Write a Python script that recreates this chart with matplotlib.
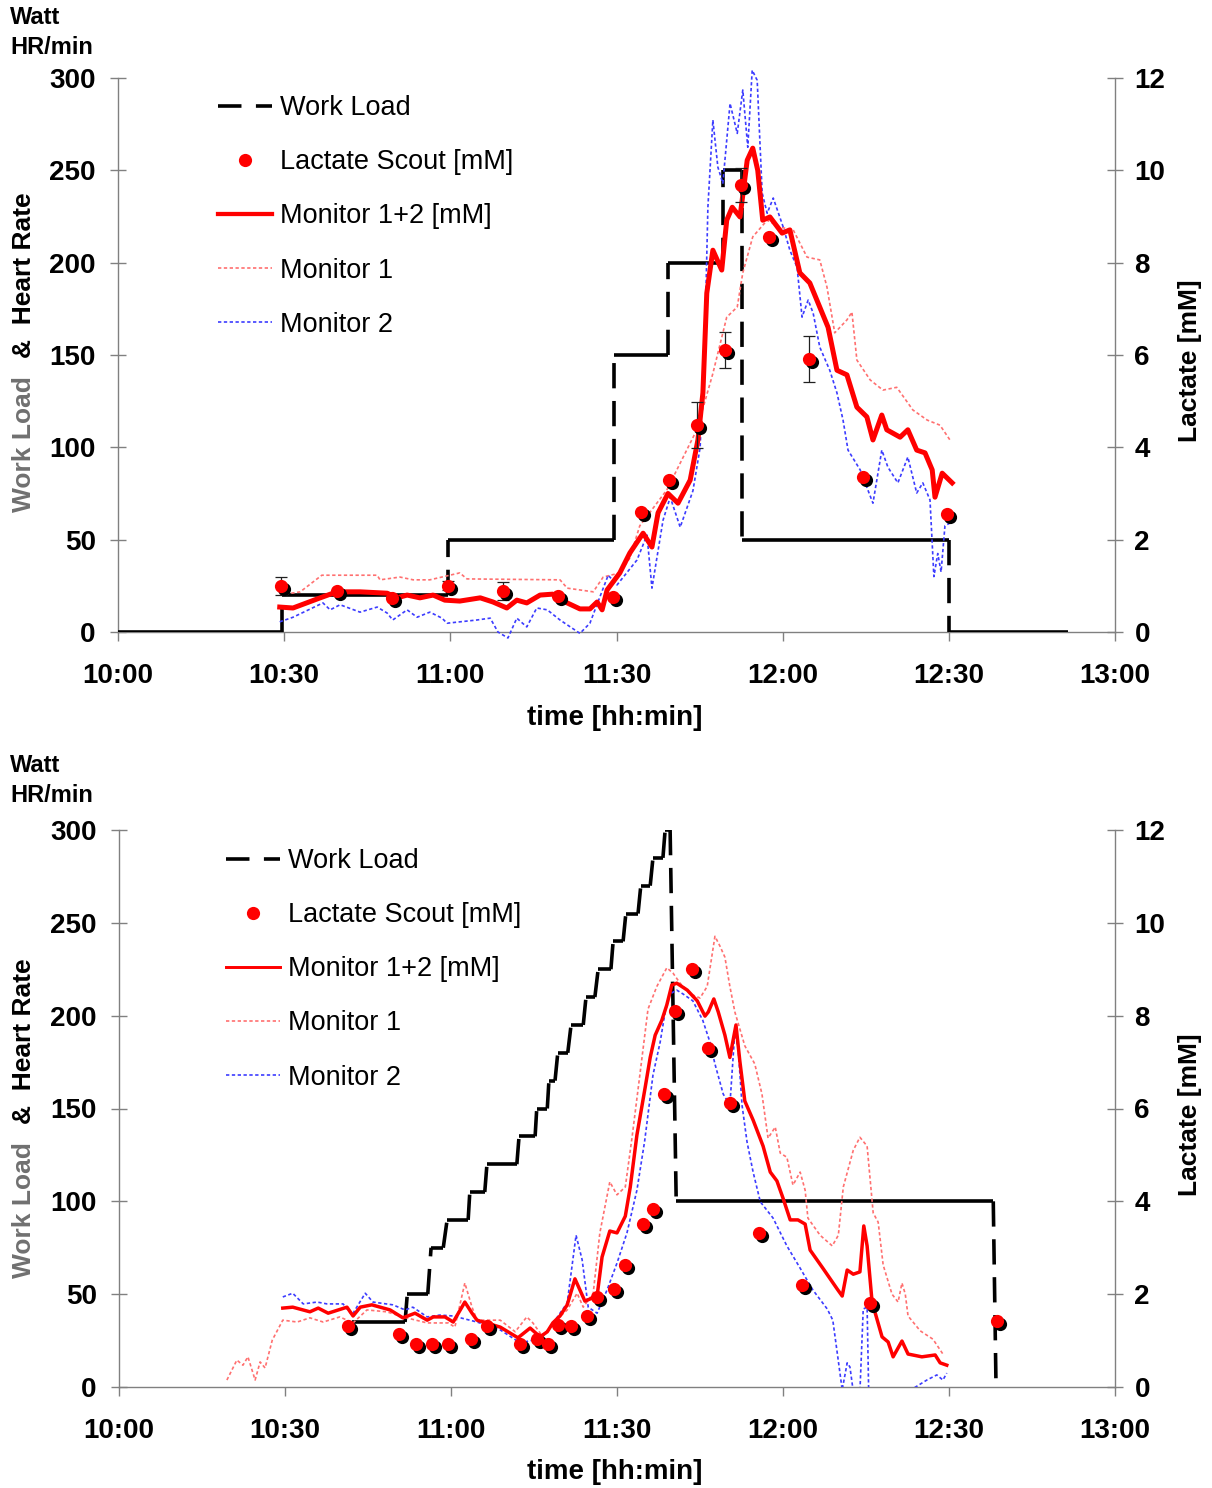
import matplotlib
matplotlib.use('Agg')
import matplotlib.pyplot as plt
from matplotlib.lines import Line2D
from matplotlib.transforms import ScaledTranslation

plt.rcParams['font.family'] = ['Liberation Sans', 'DejaVu Sans']

# ---- data: time in minutes after 10:00 ----
xticks = [0, 30, 60, 90, 120, 150, 180]
xlabels = ['10:00', '10:30', '11:00', '11:30', '12:00', '12:30', '13:00']
yticks_left = [0, 50, 100, 150, 200, 250, 300]
yticks_right = [0, 2, 4, 6, 8, 10, 12]

# top panel
load1_t = [0, 29.6, 29.6, 59.6, 59.6, 89.6, 89.6, 99.3, 99.3, 109.2, 109.2, 112.7, 112.7, 150, 150, 171.5]
load1_w = [0, 0, 20, 20, 50, 50, 150, 150, 200, 200, 250, 250, 50, 50, 0, 0]

scout1_t = [29.4, 39.5, 49.5, 59.6, 69.5, 79.4, 89.4, 94.4, 99.5, 104.5, 109.6, 112.5, 117.5, 124.7, 134.5, 149.7]
scout1_v = [1.00, 0.89, 0.74, 1.00, 0.89, 0.78, 0.76, 2.60, 3.29, 4.48, 6.10, 9.68, 8.56, 5.91, 3.36, 2.56]
scout1_err = [0.20, 0, 0, 0.10, 0.20, 0, 0, 0, 0, 0.50, 0.39, 0.37, 0, 0.50, 0, 0]

mon12_1_t = [29.2, 31.6, 36.5, 39.5, 43.7, 48.6, 50.4, 52.2, 54.5, 56.9, 59.0, 61.7, 65.4, 67.7, 70.2,
             72.0, 73.8, 76.2, 78.5, 81.1, 83.4, 85.2, 86.5, 87.4, 88.3, 90.6, 92.4, 94.8, 96.4, 97.5,
             99.3, 101.1, 103.3, 104.7, 105.6, 106.3, 107.4, 109.0, 109.9, 110.9, 112.3, 113.6, 114.6,
             115.5, 116.4, 117.7, 119.9, 121.3, 123.1, 124.9, 128.2, 129.8, 131.6, 133.4, 135.2, 136.3,
             137.9, 138.8, 141.2, 142.6, 144.2, 145.7, 147.0, 147.5, 148.8, 150.6]
mon12_1_v = [0.54, 0.52, 0.74, 0.87, 0.87, 0.84, 0.74, 0.80, 0.74, 0.80, 0.69, 0.67, 0.74, 0.65, 0.52,
             0.69, 0.63, 0.80, 0.82, 0.63, 0.50, 0.50, 0.65, 0.48, 0.91, 1.28, 1.71, 2.14, 1.84, 2.58,
             3.00, 2.79, 3.29, 4.16, 5.18, 7.34, 8.27, 7.84, 8.92, 9.20, 8.99, 10.22, 10.48,
             10.00, 8.92, 8.99, 8.64, 8.71, 7.78, 7.56, 6.60, 5.67, 5.57, 4.87, 4.66, 4.16,
             4.70, 4.38, 4.22, 4.38, 3.94, 3.88, 3.51, 2.92, 3.44, 3.23]

mon1_1_t = [29.2, 32.9, 36.8, 46.8, 47.3, 50.9, 53.3, 56.3, 61.7, 63.0, 79.8, 81.1, 85.8, 87.6, 90.6,
            92.4, 94.2, 99.1, 104.5, 107.4, 109.9, 111.8, 112.8, 114.6, 117.2, 119.5, 121.9, 124.4,
            126.7, 128.0, 129.4, 131.6, 132.5, 133.4, 135.8, 138.1, 140.6, 143.5, 146.1, 148.4, 150.2]
mon1_1_v = [0.80, 0.87, 1.23, 1.23, 1.13, 1.19, 1.13, 1.13, 1.28, 1.15, 1.13, 0.95, 0.87, 1.19, 1.28,
            1.60, 2.30, 3.08, 4.38, 5.60, 6.82, 7.04, 7.78, 8.56, 8.92, 8.77, 8.71, 8.12,
            8.06, 7.47, 6.48, 6.76, 6.93, 5.89, 5.46, 5.24, 5.30, 4.81, 4.59, 4.48, 4.16]

mon2_1_t = [29.2, 31.6, 37.0, 38.3, 40.1, 43.7, 46.8, 48.6, 49.6, 52.2, 54.0, 56.3, 58.5, 59.4, 64.8,
            67.2, 68.6, 70.4, 72.0, 73.8, 75.6, 77.5, 79.8, 83.4, 85.2, 87.0, 88.5, 90.1, 93.7, 95.5,
            96.4, 98.4, 99.7, 101.5, 103.8, 105.1, 106.0, 106.5, 107.4, 108.3, 109.2, 110.5, 111.8,
            112.8, 113.7, 114.5, 115.4, 116.3, 117.2, 118.3, 120.1, 121.3, 122.6, 123.5, 124.6, 125.5,
            126.7, 128.5, 129.8, 130.9, 131.8, 134.0, 136.3, 137.9, 139.0, 140.8, 142.6, 144.2, 145.3,
            146.6, 147.3, 148.0, 148.6, 149.3, 150.2]
mon2_1_v = [0.22, 0.32, 0.63, 0.48, 0.59, 0.43, 0.54, 0.41, 0.26, 0.48, 0.32, 0.43, 0.30, 0.19, 0.26,
            0.30, 0.00, -0.13, 0.30, 0.11, 0.52, 0.48, 0.26, -0.03, 0.19, 0.76, 1.23, 1.02, 1.56, 2.10,
            0.95, 2.42, 2.92, 2.27, 3.06, 4.00, 6.60, 9.20, 11.09, 10.07, 9.72, 11.45, 10.80,
            11.74, 10.50, 12.17, 11.95, 9.51, 9.07, 9.40, 8.77, 8.27, 7.90, 6.82, 7.19, 6.91,
            6.17, 5.67, 5.18, 4.59, 3.94, 3.51, 2.79, 3.94, 3.57, 3.23, 3.79, 3.01, 3.23,
            2.86, 1.20, 1.70, 1.30, 2.30, 2.36]

# bottom panel
load2_t = [42.1, 51.7, 52.1, 55.8, 56.4, 58.6, 59.3, 63.1, 63.4, 66.1, 66.5, 71.9, 72.3, 75.2, 75.5,
           77.4, 77.7, 78.8, 79.3, 81.1, 81.7, 83.9, 84.4, 86.0, 86.6, 88.9, 89.3, 91.1, 91.6, 93.8,
           94.3, 96.0, 96.5, 98.3, 98.7, 99.6, 100.7, 158.0, 158.5]
load2_w = [35, 35, 50, 50, 75, 75, 90, 90, 105, 105, 120, 120, 135, 135, 150,
           150, 165, 165, 180, 180, 195, 195, 210, 210, 225, 225, 240, 240, 255, 255,
           270, 270, 285, 285, 300, 300, 100, 100, 0]

scout2_t = [41.4, 50.6, 53.7, 56.6, 59.5, 63.6, 66.5, 72.5, 75.5, 77.5, 79.3, 81.7, 84.6, 86.4, 89.5,
            91.5, 94.7, 96.5, 98.5, 100.5, 103.6, 106.5, 110.4, 115.7, 123.4, 135.7, 158.7]
scout2_v = [1.31, 1.14, 0.93, 0.93, 0.93, 1.03, 1.31, 0.93, 1.03, 0.93, 1.34, 1.31, 1.53, 1.94, 2.11,
            2.63, 3.51, 3.83, 6.31, 8.10, 9.00, 7.30, 6.12, 3.32, 2.20, 1.81, 1.42]

mon12_2_t = [29.6, 31.4, 34.5, 36.0, 37.8, 41.2, 42.3, 43.6, 45.7, 49.0, 51.3, 53.5, 55.7, 56.8, 58.9,
             60.4, 62.5, 63.8, 64.7, 68.9, 72.1, 74.3, 76.1, 77.4, 78.4, 79.7, 81.0, 82.4, 84.2, 86.4,
             87.3, 88.7, 90.0, 91.5, 92.4, 93.6, 95.1, 96.0, 96.9, 98.1, 99.0, 99.9, 100.8, 102.7,
             104.5, 105.9, 106.5, 107.5, 108.3, 109.5, 110.4, 111.5, 112.2, 113.1, 114.6, 116.4, 117.7,
             118.9, 120.0, 121.3, 122.7, 124.0, 124.9, 127.2, 129.8, 130.7, 131.6, 132.7, 133.9, 134.6,
             135.2, 136.1, 137.9, 139.0, 139.9, 141.5, 142.6, 145.1, 147.5, 148.4, 149.6]
mon12_2_v = [1.70, 1.72, 1.62, 1.70, 1.59, 1.72, 1.53, 1.72, 1.77, 1.66, 1.49, 1.59, 1.44, 1.51, 1.51,
             1.40, 1.83, 1.59, 1.44, 1.29, 1.06, 1.27, 1.08, 1.19, 1.38, 1.53, 1.77, 2.33, 1.85, 1.96,
             2.80, 3.36, 3.32, 3.68, 4.31, 5.43, 6.46, 7.10, 7.58, 7.90, 8.23, 8.66, 8.70, 8.55,
             8.32, 7.99, 8.08, 8.36, 8.08, 7.58, 7.10, 7.80, 7.02, 6.16, 5.75, 5.19, 4.63,
             4.44, 4.07, 3.60, 3.60, 3.51, 2.95, 2.56, 2.11, 1.96, 2.52, 2.43, 2.48, 3.47,
             3.04, 1.83, 1.08, 0.97, 0.65, 0.99, 0.71, 0.65, 0.69, 0.52, 0.47]

mon1_2_t = [19.5, 21.3, 22.4, 23.3, 24.6, 25.5, 26.4, 27.7, 29.6, 32.2, 34.5, 36.9, 39.9, 42.3, 44.8,
            48.4, 51.3, 55.7, 59.5, 60.7, 62.5, 63.8, 64.7, 68.9, 71.6, 73.7, 74.8, 76.6, 78.4, 81.0,
            82.8, 83.9, 85.7, 86.9, 88.7, 90.0, 91.5, 92.7, 94.2, 95.6, 97.2, 99.0, 100.1, 101.4,
            103.2, 105.0, 106.3, 107.7, 108.6, 109.5, 110.4, 111.3, 113.1, 114.9, 116.2, 117.3, 118.6,
            119.5, 120.7, 121.8, 123.1, 124.0, 124.5, 126.7, 128.9, 130.0, 130.9, 132.7, 133.9, 135.2,
            136.3, 137.2, 138.1, 139.7, 140.8, 141.5, 142.1, 142.6, 144.8, 147.1, 148.9]
mon1_2_v = [0.15, 0.58, 0.47, 0.65, 0.15, 0.54, 0.41, 1.01, 1.44, 1.40, 1.49, 1.40, 1.51, 1.38, 1.66,
            1.62, 1.51, 1.38, 1.38, 1.29, 2.24, 1.72, 1.44, 1.44, 1.19, 1.51, 1.38, 1.08, 1.38, 1.66,
            2.02, 1.72, 2.02, 3.32, 4.42, 4.14, 4.31, 5.36, 6.79, 8.14, 8.63, 9.03, 8.92, 8.70,
            8.47, 8.38, 8.63, 9.71, 9.50, 9.26, 8.63, 8.08, 7.35, 6.96, 6.31, 5.36, 5.60,
            5.04, 4.95, 4.35, 4.63, 4.24, 3.64, 3.27, 3.04, 3.27, 4.31, 5.10, 5.38, 5.19,
            3.75, 3.55, 2.63, 2.00, 1.83, 2.24, 2.00, 1.53, 1.21, 1.03, 0.71]

mon2_2_t = [29.6, 31.4, 33.3, 35.8, 37.6, 40.5, 42.1, 44.5, 45.9, 49.5, 51.7, 53.1, 55.7, 58.0, 60.4,
            64.7, 68.9, 72.5, 74.8, 77.4, 79.7, 81.0, 82.6, 83.7, 84.8, 86.4, 88.2, 90.0, 91.8, 93.6,
            95.0, 96.5, 97.8, 98.7, 99.6, 100.8, 101.9, 103.7, 105.5, 106.8, 107.7, 109.2, 110.4,
            111.3, 111.9, 112.6, 113.5, 114.6, 115.9, 118.2, 120.7, 123.1, 125.4, 128.0, 129.0, 129.9,
            130.7, 131.6, 132.1, 132.7, 133.9, 134.5, 135.2, 135.5, 138.4, 142.6, 146.0, 147.8, 148.9,
            149.6]
mon2_2_v = [1.94, 2.02, 1.79, 1.83, 1.79, 1.79, 1.55, 2.02, 1.83, 1.77, 1.66, 1.72, 1.51, 1.55, 1.53,
            1.40, 1.23, 0.95, 1.01, 1.19, 1.59, 1.81, 3.27, 2.74, 1.72, 1.59, 2.09, 2.67, 3.32, 4.24,
            5.30, 6.72, 7.43, 8.08, 8.47, 8.55, 8.47, 8.32, 7.90, 7.43, 6.96, 6.31, 6.07,
            7.67, 7.28, 6.07, 5.28, 4.63, 3.99, 3.64, 3.04, 2.56, 2.09, 1.68, 1.44, 0.65,
            -0.06, 0.52, 0.43, -0.10, -0.10, 1.68, 1.72, -0.20, -0.50, -0.10, 0.15, 0.26, 0.15,
            0.30]

# ---- layout ----
W, H = 1212, 1488
DPI = 100
fig = plt.figure(figsize=(W / DPI, H / DPI), dpi=DPI)


def fx(px):
    return px / W


def fy(py):
    return 1 - py / H


GRAY = '#808080'
RED = '#ff0000'
PINK = '#ff7070'
BLUE = '#3c3cff'
TICK_FS = 20
LEG_FS = 19.5


def draw_load(ax, t, w):
    # horizontal parts solid, the jumps dashed
    for i in range(len(t) - 1):
        if w[i] == w[i + 1]:
            ax.plot(t[i:i + 2], w[i:i + 2], color='black', lw=2.6, solid_capstyle='butt', zorder=3)
        else:
            ax.plot(t[i:i + 2], w[i:i + 2], color='black', lw=2.6, ls=(0, (7, 3.5)),
                    dash_capstyle='butt', zorder=3)


def panel(rect, load_t, load_w, sc_t, sc_v, sc_err, m12_t, m12_v, m1_t, m1_v, m2_t, m2_v,
          lw12, clip, title_y, leg_xy, xlab_y, ylab_bottom):
    ax = fig.add_axes(rect)
    ax2 = ax.twinx()
    ax.set_xlim(0, 180)
    ax.set_ylim(0, 300)
    ax2.set_ylim(0, 12)

    draw_load(ax, load_t, load_w)

    ax2.plot(m1_t, m1_v, color=PINK, lw=1.2, ls=(0, (2, 1.5)), clip_on=clip, zorder=2)
    ax2.plot(m2_t, m2_v, color=BLUE, lw=1.2, ls=(0, (2, 1.5)), clip_on=clip, zorder=2)
    ax2.plot(m12_t, m12_v, color=RED, lw=lw12, clip_on=clip, zorder=3)

    if sc_err is not None:
        et = [a for a, e in zip(sc_t, sc_err) if e > 0]
        ev = [b for b, e in zip(sc_v, sc_err) if e > 0]
        ee = [e for e in sc_err if e > 0]
        ax2.errorbar(et, ev, yerr=ee, fmt='none', ecolor='#202020', elinewidth=0.9,
                     capsize=4, capthick=0.9, zorder=4)
    shadow = ax2.transData + ScaledTranslation(3 / DPI, -3 / DPI, fig.dpi_scale_trans)
    ax2.plot(sc_t, sc_v, 'o', color='black', ms=9.5, mec='none', transform=shadow, zorder=5,
             clip_on=False)
    ax2.plot(sc_t, sc_v, 'o', color=RED, ms=9.5, mec='none', zorder=6, clip_on=False)

    for a in (ax, ax2):
        a.spines['top'].set_visible(False)
    ax.spines['right'].set_visible(False)
    ax2.spines['left'].set_visible(False)
    ax2.spines['bottom'].set_visible(False)
    for s in ('left', 'bottom'):
        ax.spines[s].set_color(GRAY)
        ax.spines[s].set_linewidth(1.0)
    ax2.spines['right'].set_color(GRAY)
    ax2.spines['right'].set_linewidth(1.0)

    ax.set_xticks(xticks)
    ax.set_xticklabels(xlabels, fontsize=TICK_FS, fontweight='bold')
    ax.tick_params(axis='x', direction='out', length=6.5, width=1, color=GRAY, pad=16)
    ax.set_yticks(yticks_left)
    ax.set_yticklabels([str(v) for v in yticks_left], fontsize=TICK_FS, fontweight='bold')
    ax.tick_params(axis='y', direction='inout', length=12, width=1, color=GRAY, pad=10)
    ax2.set_yticks(yticks_right)
    ax2.set_yticklabels([str(v) for v in yticks_right], fontsize=TICK_FS, fontweight='bold')
    ax2.tick_params(axis='y', direction='inout', length=12, width=1, color=GRAY, pad=8)

    handles = [
        Line2D([], [], color='black', lw=2.6, ls=(0, (6.5, 4)), dash_capstyle='butt'),
        Line2D([], [], ls='none', marker='o', color=RED, ms=9.5, mec='none'),
        Line2D([], [], color=RED, lw=lw12 * 0.85),
        Line2D([], [], color=PINK, lw=1.2, ls=(0, (2, 1.5))),
        Line2D([], [], color=BLUE, lw=1.2, ls=(0, (2, 1.5))),
    ]
    labels = ['Work Load', 'Lactate Scout [mM]', 'Monitor 1+2 [mM]', 'Monitor 1', 'Monitor 2']
    ax2.legend(handles, labels, loc='upper left', bbox_to_anchor=(fx(leg_xy[0]), fy(leg_xy[1])),
               bbox_transform=fig.transFigure, frameon=False, fontsize=LEG_FS, handlelength=2.0,
               handletextpad=0.3, labelspacing=1.04, borderpad=0, borderaxespad=0)

    fig.text(fx(10), fy(title_y), 'Watt', fontsize=17, fontweight='bold', va='center')
    fig.text(fx(10), fy(title_y + 30), 'HR/min', fontsize=17, fontweight='bold', va='center')
    fig.text(fx(615), fy(xlab_y), 'time [hh:min]', fontsize=20, fontweight='bold',
             ha='center', va='center')
    fig.text(fx(24), fy(ylab_bottom), 'Work Load', fontsize=19, fontweight='bold', color='#707070',
             rotation=90, ha='center', va='bottom')
    fig.text(fx(24), fy(ylab_bottom - 320), '&  Heart Rate', fontsize=19, fontweight='bold',
             color='black', rotation=90, ha='center', va='top')
    mid = (1 - rect[1] - rect[3] / 2) * H + 6
    fig.text(fx(1190), fy(mid), 'Lactate [mM]',
             fontsize=19, fontweight='bold', rotation=90, ha='center', va='center')
    return ax, ax2


top_rect = [fx(118), fy(632), (1115 - 118) / W, (632 - 78) / H]
bot_rect = [fx(119), fy(1387), (1115 - 119) / W, (1387 - 830) / H]

panel(top_rect, load1_t, load1_w, scout1_t, scout1_v, scout1_err, mon12_1_t, mon12_1_v,
      mon1_1_t, mon1_1_v, mon2_1_t, mon2_1_v, 3.6, False, 18, (218, 95), 718, 512)
panel(bot_rect, load2_t, load2_w, scout2_t, scout2_v, None, mon12_2_t, mon12_2_v,
      mon1_2_t, mon1_2_v, mon2_2_t, mon2_2_v, 2.5, True, 766, (226, 848), 1472, 1278)

fig.savefig('out.png', dpi=DPI)
